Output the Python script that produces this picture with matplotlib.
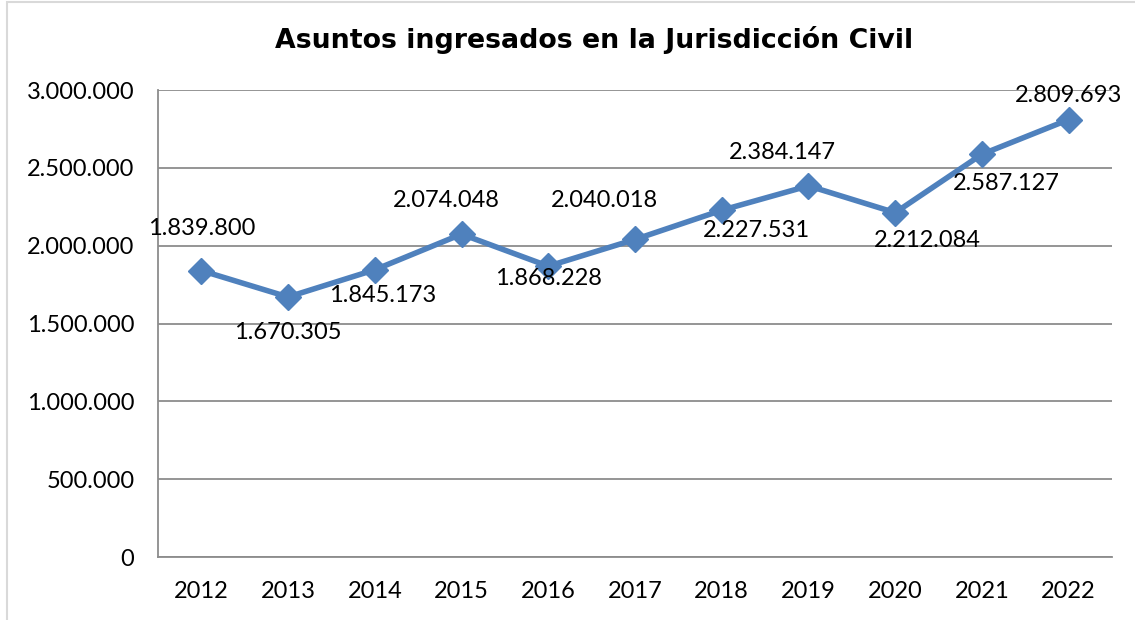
import matplotlib
matplotlib.use("Agg")
import matplotlib.pyplot as plt
from matplotlib.patches import Rectangle

years = ["2012", "2013", "2014", "2015", "2016", "2017", "2018", "2019", "2020", "2021", "2022"]
values = [1839800, 1670305, 1845173, 2074048, 1868228, 2040018, 2227531, 2384147, 2212084, 2587127, 2809693]
yticks = [0, 500000, 1000000, 1500000, 2000000, 2500000, 3000000]
title = "Asuntos ingresados en la Jurisdicción Civil"

def fmt(v):
    return f"{v:,}".replace(",", ".")

# label offsets in pixels (dx, dy)
offsets = [(0, 42), (0, -36), (8, -26), (-15, 34), (0, -12), (-31, 39),
           (35, -20), (-26, 33), (32, -28), (24, -29), (0, 24)]

W, H, DPI = 1135, 620, 100
fig = plt.figure(figsize=(W / DPI, H / DPI), dpi=DPI)
fig.patches.append(Rectangle((7 / W, -0.1), 1.2, 1 - 2 / H + 0.1, transform=fig.transFigure,
                             fill=False, edgecolor="#d9d9d9", linewidth=1.5))

ax = fig.add_axes([158 / W, 1 - 557 / H, (1112 - 158) / W, (557 - 90) / H])
font = "Lato"
fs = 17
x = list(range(len(years)))
ax.plot(x, values, color="#4F81BD", linewidth=4, marker="D", markersize=13,
        markerfacecolor="#4F81BD", markeredgecolor="#4F81BD", zorder=3, clip_on=False)

for xi, v, (dx, dy) in zip(x, values, offsets):
    ax.annotate(fmt(v), (xi, v), xytext=(dx, dy), textcoords="offset pixels",
                ha="center", va="center", fontsize=fs, family=font, color="#000000", zorder=4)

ax.set_xlim(-0.5, len(years) - 0.5)
ax.set_ylim(0, 3000000)
ax.set_yticks(yticks)
ax.set_yticklabels([fmt(v) for v in yticks], family=font, fontsize=fs)
ax.set_xticks(x)
ax.set_xticklabels(years, family=font, fontsize=fs)
ax.tick_params(axis="y", length=0, pad=17)
ax.tick_params(axis="x", length=0, pad=17)
ax.grid(axis="y", color="#8c8c8c", linewidth=1.3)
ax.set_axisbelow(True)
for s in ["top", "right"]:
    ax.spines[s].set_visible(False)
for s in ["left", "bottom"]:
    ax.spines[s].set_color("#8c8c8c")
    ax.spines[s].set_linewidth(1.3)

fig.text(594 / W, 1 - 40 / H, title, ha="center", va="center", fontsize=19.3,
         fontweight="bold", family="DejaVu Sans")

fig.savefig("out.png", dpi=DPI)
